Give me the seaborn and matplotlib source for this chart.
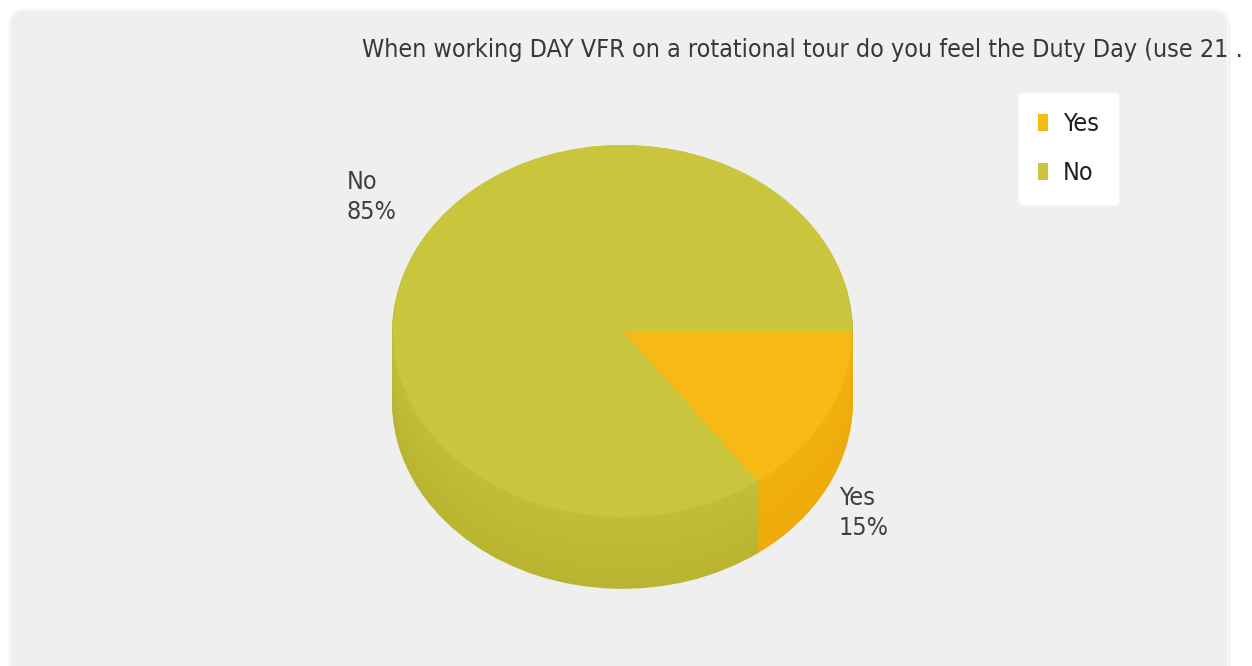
import numpy as np
import matplotlib
matplotlib.use("Agg")
import matplotlib.pyplot as plt
from matplotlib.patches import FancyBboxPatch, Patch
from matplotlib.colors import to_rgb
import seaborn as sns

# ---- data ----
categories = ["Yes", "No"]
percent = [15, 85]
title_text = "When working DAY VFR on a rotational tour do you feel the Duty Day (use 21 ."

top_colors = ["#f7b914", "#c9c53c"]
side_light = ["#f0b00e", "#c2bd38"]
side_dark = ["#eeab0a", "#bab531"]

sns.set_theme(style="white")
plt.rcParams['font.family'] = ['DejaVu Sans']
plt.rcParams['font.stretch'] = 'condensed'

W, H = 1252, 666
fig = plt.figure(figsize=(W / 100, H / 100), dpi=100)
fig.patch.set_facecolor("white")

# background panel
bg = fig.add_axes([0, 0, 1, 1])
bg.set_xlim(0, W)
bg.set_ylim(H, 0)
bg.axis("off")
bg.add_patch(FancyBboxPatch((12, 12), 1218, 720, boxstyle="round,pad=0,rounding_size=14",
                            facecolor="#e4e4e4", edgecolor="none", zorder=0))
bg.add_patch(FancyBboxPatch((10, 10), 1218, 720, boxstyle="round,pad=0,rounding_size=14",
                            facecolor="#efefef", edgecolor="#f7f7f7", lw=2, zorder=1))

# pie axes (pixel-like coordinates, vertically squashed for 3D look)
cx, cy_px = 622.5, 331.0
rx, ry = 229.5, 186.0
sy = ry / rx
depth_px = 71.0

pax = fig.add_axes([0, 0, 1, 1])
pax.patch.set_alpha(0)

n_layers = 60
for i, d in enumerate(np.linspace(depth_px, 1.0, n_layers)):
    t = d / depth_px
    cols = [tuple((1 - t) * np.array(to_rgb(a)) + t * np.array(to_rgb(b)))
            for a, b in zip(side_light, side_dark)]
    pax.pie(percent, colors=cols, startangle=0, counterclock=True, radius=rx,
            center=(cx, (cy_px + d) / sy), frame=True,
            wedgeprops=dict(linewidth=0, antialiased=True))
    for w, c in zip(pax.patches[-2:], cols):
        w.set_edgecolor(c)
        w.set_linewidth(1.2)

wedges, _ = pax.pie(percent, colors=top_colors, startangle=0, counterclock=True, radius=rx,
                    center=(cx, cy_px / sy), frame=True,
                    wedgeprops=dict(linewidth=0))
pax.set_xlim(0, W)
pax.set_ylim(H / sy, 0)
pax.set_aspect("auto")
pax.axis("off")

# labels
label_pos = {"No": (347, 170), "Yes": (839, 486)}
for cat, p in zip(categories, percent):
    x, y = label_pos[cat]
    bg.text(x, y, f"{cat}\n{p}%", fontsize=18, color="#404040", ha="left", va="top",
            linespacing=1.3, zorder=5)

# title, fitted to width
t = bg.text(362, 57, title_text, fontsize=20, color="#383838", ha="left", va="baseline", zorder=5)
fig.canvas.draw()
bb = t.get_window_extent()
t.set_fontsize(20 * (1245 - 362) / bb.width)

# legend
handles = [Patch(facecolor=c, edgecolor="none") for c in top_colors]
leg = bg.legend(handles, categories, loc="upper left",
                bbox_to_anchor=(1018 / W, 1 - 92 / H), bbox_transform=fig.transFigure,
                fontsize=18, frameon=True, facecolor="white", edgecolor="#f4f4f4",
                framealpha=1, fancybox=True, handlelength=0.4, handleheight=0.7,
                handletextpad=0.6, labelspacing=1.0, borderpad=0.8, borderaxespad=0)
for txt in leg.get_texts():
    txt.set_color("#202020")
leg.set_zorder(6)

fig.savefig("out.png", dpi=100)
